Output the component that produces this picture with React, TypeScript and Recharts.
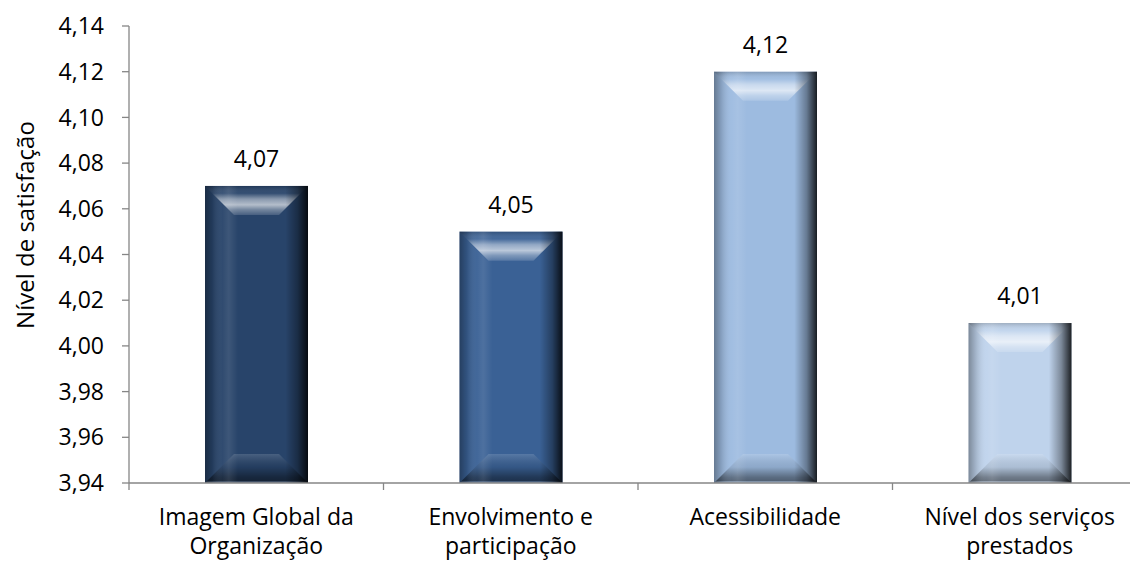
import React from 'react';
import { BarChart, Bar, XAxis, YAxis, LabelList } from 'recharts';

// Satisfaction level per dimension
const CATEGORIES = [
  'Imagem Global da Organização',
  'Envolvimento e participação',
  'Acessibilidade',
  'Nível dos serviços prestados',
];
const VALUES = [4.07, 4.05, 4.12, 4.01];
const Y_TICKS = [3.94, 3.96, 3.98, 4.0, 4.02, 4.04, 4.06, 4.08, 4.1, 4.12, 4.14];
const Y_LABEL = 'Nível de satisfação';

const BAR_COLORS = ['#28446a', '#3a6195', '#9dbbe0', '#bfd3ec'];

const FONT = '"Open Sans", sans-serif';
const FONT_SIZE = 23;
const AXIS_COLOR = '#868686';

const CHART_W = 1160;
const CHART_H = 561;
const MARGIN = { top: 26, right: 13, bottom: 0, left: 0 };
const Y_AXIS_W = 129;
const X_AXIS_H = 78;
const PLOT_W = CHART_W - MARGIN.left - MARGIN.right - Y_AXIS_W;
const BAND = PLOT_W / CATEGORIES.length;

const data = CATEGORIES.map((name, i) => ({ name, value: VALUES[i] }));

const fmt = (v: number) => v.toFixed(2).replace('.', ',');

// Greedy word wrap for category labels
const wrap = (s: string, max = 18): string[] => {
  const lines: string[] = [];
  let cur = '';
  s.split(' ').forEach((w) => {
    const next = cur ? cur + ' ' + w : w;
    if (next.length > max && cur) {
      lines.push(cur);
      cur = w;
    } else {
      cur = next;
    }
  });
  if (cur) lines.push(cur);
  return lines;
};

// Bevelled bar: flat base, lit top facet, shaded bottom facet, darkened right edge
const BevelBar = (props: any) => {
  const { x, y, width, height, index } = props;
  if (!width || !height) return null;
  const base = BAR_COLORS[index % BAR_COLORS.length];
  const b = Math.min(29, width / 2, height / 2);
  const id = `bevel-${index}`;
  const topPts = `${x},${y} ${x + width},${y} ${x + width - b},${y + b} ${x + b},${y + b}`;
  const bot = y + height;
  const botPts = `${x + b},${bot - b} ${x + width - b},${bot - b} ${x + width},${bot} ${x},${bot}`;
  return (
    <g>
      <defs>
        <linearGradient id={`${id}-top`} x1="0" y1="0" x2="0" y2="1">
          <stop offset="0" stopColor="#000" stopOpacity={0.18} />
          <stop offset="0.25" stopColor="#fff" stopOpacity={0.05} />
          <stop offset="0.45" stopColor="#fff" stopOpacity={0.45} />
          <stop offset="0.65" stopColor="#fff" stopOpacity={0.65} />
          <stop offset="0.82" stopColor="#fff" stopOpacity={0.35} />
          <stop offset="1" stopColor="#fff" stopOpacity={0.15} />
        </linearGradient>
        <linearGradient id={`${id}-bot`} x1="0" y1="0" x2="0" y2="1">
          <stop offset="0" stopColor="#fff" stopOpacity={0.15} />
          <stop offset="0.45" stopColor="#000" stopOpacity={0.1} />
          <stop offset="0.8" stopColor="#000" stopOpacity={0.42} />
          <stop offset="0.92" stopColor="#000" stopOpacity={0.48} />
          <stop offset="1" stopColor="#fff" stopOpacity={0.35} />
        </linearGradient>
        <linearGradient id={`${id}-side`} x1="0" y1="0" x2="1" y2="0">
          <stop offset="0" stopColor="#000" stopOpacity={0.35} />
          <stop offset="0.07" stopColor="#000" stopOpacity={0.15} />
          <stop offset="0.17" stopColor="#fff" stopOpacity={0.04} />
          <stop offset="0.23" stopColor="#fff" stopOpacity={0.1} />
          <stop offset="0.32" stopColor="#fff" stopOpacity={0} />
          <stop offset="0.78" stopColor="#000" stopOpacity={0} />
          <stop offset="0.9" stopColor="#000" stopOpacity={0.35} />
          <stop offset="1" stopColor="#000" stopOpacity={0.85} />
        </linearGradient>
      </defs>
      <rect x={x} y={y} width={width} height={height} fill={base} />
      <polygon points={topPts} fill={`url(#${id}-top)`} />
      <polygon points={botPts} fill={`url(#${id}-bot)`} />
      <rect x={x} y={y} width={width} height={height} fill={`url(#${id}-side)`} />
    </g>
  );
};

// Category label plus tick marks on the category boundaries
const CategoryTick = (props: any) => {
  const { x, y, payload, index } = props;
  const lines = wrap(String(payload.value));
  const left = x - BAND / 2;
  return (
    <g>
      <line x1={left} y1={y} x2={left} y2={y + 7} stroke={AXIS_COLOR} strokeWidth={1.3} />
      {index === CATEGORIES.length - 1 && (
        <line x1={x + BAND / 2} y1={y} x2={x + BAND / 2} y2={y + 7} stroke={AXIS_COLOR} strokeWidth={1.3} />
      )}
      {lines.map((l, i) => (
        <text
          key={i}
          x={x}
          y={y + 42 + i * 29}
          textAnchor="middle"
          fill="#000"
          fontSize={FONT_SIZE}
          fontFamily={FONT}
        >
          {l}
        </text>
      ))}
    </g>
  );
};

const YTitle = () => (
  <text
    x={34}
    y={225}
    transform="rotate(-90, 34, 225)"
    textAnchor="middle"
    fill="#000"
    fontSize={24}
    fontFamily={FONT}
  >
    {Y_LABEL}
  </text>
);

export default function App() {
  return (
    <div
      style={{
        position: 'absolute',
        left: 0,
        top: 0,
        width: 1130,
        height: 561,
        overflow: 'hidden',
        background: '#fff',
      }}
    >
      <BarChart width={CHART_W} height={CHART_H} data={data} margin={MARGIN}>
        <XAxis
          dataKey="name"
          height={X_AXIS_H}
          interval={0}
          tickLine={false}
          tickSize={0}
          tickMargin={0}
          axisLine={{ stroke: AXIS_COLOR, strokeWidth: 1.3 }}
          tick={<CategoryTick />}
        />
        <YAxis
          width={Y_AXIS_W}
          domain={[3.94, 4.14]}
          ticks={Y_TICKS}
          allowDataOverflow
          interval={0}
          tickFormatter={fmt}
          tickSize={7}
          tickMargin={18}
          axisLine={{ stroke: AXIS_COLOR, strokeWidth: 1.3 }}
          tickLine={{ stroke: AXIS_COLOR, strokeWidth: 1.3 }}
          tick={{ fill: '#000', fontSize: FONT_SIZE, fontFamily: FONT }}
          label={<YTitle />}
        />
        <Bar dataKey="value" barSize={103} shape={<BevelBar />} isAnimationActive={false}>
          <LabelList
            dataKey="value"
            position="top"
            offset={19}
            formatter={(v: any) => fmt(Number(v))}
            fill="#000"
            fontSize={FONT_SIZE}
            fontFamily={FONT}
          />
        </Bar>
      </BarChart>
    </div>
  );
}
